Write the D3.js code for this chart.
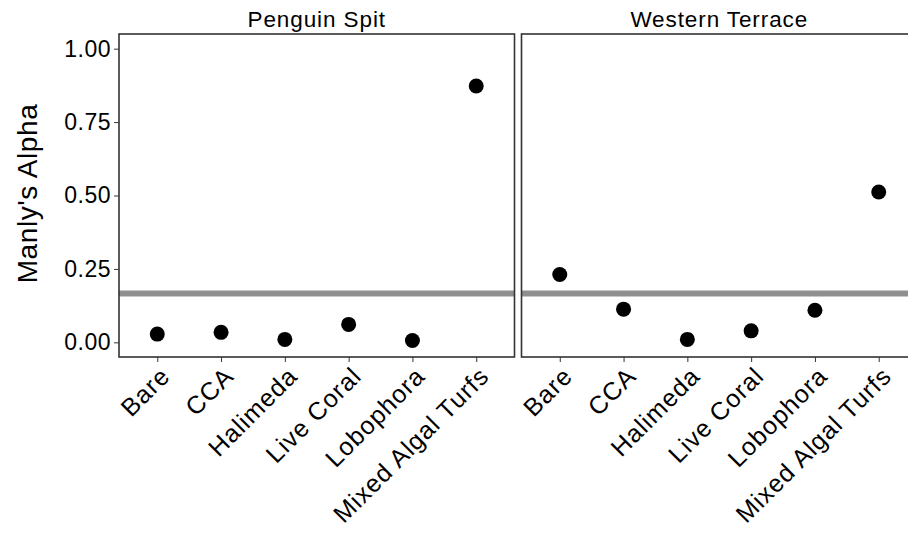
<!DOCTYPE html>
<html>
<head>
<meta charset="utf-8">
<script src="https://cdn.jsdelivr.net/npm/d3@7"></script>
<style>
  html, body { margin: 0; padding: 0; background: #fff; }
  svg { display: block; font-family: "Liberation Sans", Arial, sans-serif; }
</style>
</head>
<body>
<svg id="chart" width="908" height="538"></svg>
<script>
// Benthic categories (x axis, shared by both sites)
const categories = ["Bare", "CCA", "Halimeda", "Live Coral", "Lobophora", "Mixed Algal Turfs"];
// Sites shown as facets
const sites = ["Penguin Spit", "Western Terrace"];
// Manly's alpha per category, one array per site
const penguinSpit = [0.028, 0.034, 0.010, 0.061, 0.006, 0.873];
const westernTerrace = [0.231, 0.113, 0.010, 0.039, 0.109, 0.512];
// Neutral preference line (1 / number of categories)
const neutralAlpha = [1 / 6];
// Y axis ticks
const yTicks = [0.00, 0.25, 0.50, 0.75, 1.00];

const siteValues = [penguinSpit, westernTerrace];

const svg = d3.select("#chart");

const panelTop = 34, panelBottom = 357;
const panelLefts = [119, 521.5];
const panelWidth = 395.5;

const y = d3.scaleLinear().domain([-0.05, 1.05]).range([panelBottom, panelTop]);

// Y axis title
svg.append("text")
  .attr("transform", `translate(37,${(panelTop + panelBottom) / 2 - 2}) rotate(-90)`)
  .attr("text-anchor", "middle")
  .attr("font-size", 28)
  .attr("letter-spacing", 0.6)
  .attr("fill", "#000")
  .text("Manly's Alpha");

// Y axis on the first panel
const yAxis = svg.append("g")
  .attr("transform", `translate(${panelLefts[0]},0)`)
  .call(d3.axisLeft(y).tickValues(yTicks).tickFormat(d3.format(".2f")).tickSize(5).tickPadding(3));
yAxis.select(".domain").remove();
yAxis.selectAll(".tick line").attr("stroke", "#333").attr("stroke-width", 1);
yAxis.selectAll(".tick text")
  .attr("font-size", 23)
  .attr("letter-spacing", 0.5)
  .attr("fill", "#000")
  .attr("font-family", "Liberation Sans, Arial, sans-serif");

sites.forEach((site, i) => {
  const x0 = panelLefts[i];
  const x = d3.scalePoint().domain(categories).range([x0, x0 + panelWidth]).padding(0.6);
  const g = svg.append("g");

  // Facet title
  g.append("text")
    .attr("x", x0 + panelWidth / 2)
    .attr("y", 26.5)
    .attr("text-anchor", "middle")
    .attr("font-size", 22.5)
    .attr("letter-spacing", 0.9)
    .attr("fill", "#000")
    .text(site);

  // Neutral preference reference line
  g.selectAll("line.neutral")
    .data(neutralAlpha)
    .join("line")
    .attr("class", "neutral")
    .attr("x1", x0).attr("x2", x0 + panelWidth)
    .attr("y1", d => y(d)).attr("y2", d => y(d))
    .attr("stroke", "#8f8f8f")
    .attr("stroke-width", 6);

  // Alpha points
  g.selectAll("circle")
    .data(categories.map((c, k) => ({ cat: c, value: siteValues[i][k] })))
    .join("circle")
    .attr("cx", d => x(d.cat))
    .attr("cy", d => y(d.value))
    .attr("r", 7.5)
    .attr("fill", "#000");

  // Panel border
  g.append("rect")
    .attr("x", x0).attr("y", panelTop)
    .attr("width", panelWidth).attr("height", panelBottom - panelTop)
    .attr("fill", "none")
    .attr("stroke", "#333")
    .attr("stroke-width", 1.6);

  // X axis with rotated labels
  const xAxis = svg.append("g")
    .attr("transform", `translate(0,${panelBottom})`)
    .call(d3.axisBottom(x).tickSize(5).tickPadding(0));
  xAxis.select(".domain").remove();
  xAxis.selectAll(".tick line").attr("stroke", "#333").attr("stroke-width", 1);
  xAxis.selectAll(".tick text")
    .attr("font-size", 25)
    .attr("letter-spacing", 1)
    .attr("fill", "#000")
    .attr("font-family", "Liberation Sans, Arial, sans-serif")
    .attr("text-anchor", "end")
    .attr("x", 0).attr("y", 0).attr("dy", "0.72em")
    .attr("transform", "translate(1,8) rotate(-45)");
});
</script>
</body>
</html>
